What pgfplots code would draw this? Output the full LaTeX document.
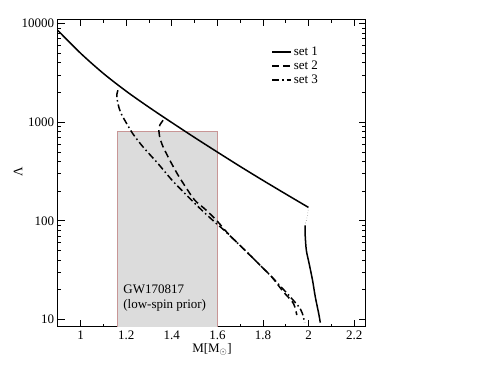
\documentclass[border=0pt]{standalone}
\usepackage{fontspec}
\setmainfont{Liberation Serif}
\usepackage{pgfplots}
\pgfplotsset{compat=1.18}
\definecolor{boxfill}{RGB}{220,220,220}
\definecolor{boxedge}{RGB}{200,150,150}
\newcommand{\fs}{\fontsize{13}{15}\selectfont}
\begin{document}
\begin{tikzpicture}
\useasboundingbox (-57.7pt,-58pt) rectangle (440.3pt,327pt);
\begin{axis}[
    at={(0,0)}, anchor=south west,
    scale only axis, width=308pt, height=307.5pt,
    ymode=log,
    xmin=0.9, xmax=2.25, ymin=8.4, ymax=11000,
    xtick={1,1.2,1.4,1.6,1.8,2,2.2},
    xticklabels={1,1.2,1.4,1.6,1.8,2,2.2},
    minor x tick num=1,
    ytick={10,100,1000,10000},
    yticklabels={10,100,1000,10000},
    /pgf/number format/assume math mode=true,
    tick label style={font=\fs},
    label style={font=\fs},
    major tick length=7pt, minor tick length=3.5pt,
    tick style={black, line width=0.8pt},
    axis line style={line width=1pt},
    xlabel={M[M$_\odot$]}, ylabel={Λ},
    xlabel style={at={(axis description cs:0.501,-0.072)}, anchor=center},
    ylabel style={at={(axis description cs:-0.129,0.504)}, anchor=center},
    legend style={at={(axis description cs:0.683,0.925)}, anchor=north west,
        draw=none, fill=none, font=\fs, row sep=0pt},
    legend cell align=left,
    legend image code/.code={\draw[#1] (0pt,0pt) -- (19pt,0pt);},
]
% GW170817 box
\addplot[fill=boxfill, draw=boxedge, line width=0.6pt, forget plot]
    coordinates {(1.16,5) (1.16,800) (1.6,800) (1.6,5)} -- cycle;

% set 1
\addplot[black, line width=1.5pt, smooth] coordinates {
    (0.900,8551) (1.0,5012) (1.1,3126) (1.2,2065) (1.3,1419) (1.4,993)
    (1.5,700) (1.6,498) (1.7,356) (1.8,257) (1.9,187) (1.999,137)};
\addlegendentry{set 1}
% set 2
\addplot[black, line width=1.5pt, dash pattern=on 7pt off 4pt, smooth] coordinates {
    (1.362,1047) (1.348,940) (1.343,863) (1.347,710) (1.357,600) (1.369,520)
    (1.399,382) (1.428,290) (1.465,213) (1.501,162) (1.55,129) (1.6,99)
    (1.65,73) (1.735,46.8) (1.794,34.2) (1.838,27.1) (1.889,19.1)
    (1.933,14.6) (1.948,11.1)};
\addlegendentry{set 2}
% set 3
\addplot[black, line width=1.5pt, dash pattern=on 7pt off 3pt on 1.5pt off 3pt, smooth] coordinates {
    (1.164,2110) (1.159,1900) (1.160,1738) (1.168,1420) (1.180,1200)
    (1.200,990) (1.230,760) (1.274,562) (1.340,380) (1.399,262) (1.443,205)
    (1.479,169) (1.54,123) (1.6,92) (1.633,79) (1.735,46.8) (1.794,34.2)
    (1.838,27.1) (1.88,21.3) (1.919,17.0) (1.963,12.9) (1.977,10.6) (1.982,9.3)};
\addlegendentry{set 3}
% set 1, unstable connection and lower branch
\addplot[gray, line width=0.6pt, dotted, smooth, forget plot] coordinates {
    (1.999,137) (1.994,112) (1.985,92)};
\addplot[black, line width=1.5pt, smooth, forget plot] coordinates {
    (1.984,90) (1.985,70) (1.990,50) (2.002,37) (2.017,25) (2.029,17)
    (2.044,11.5) (2.051,9.3)};

\node[anchor=west, align=left, font=\fs, inner sep=0pt] at (axis cs:1.187,16.5)
    {GW170817\\(low-spin prior)};
\end{axis}
\end{tikzpicture}
\end{document}
